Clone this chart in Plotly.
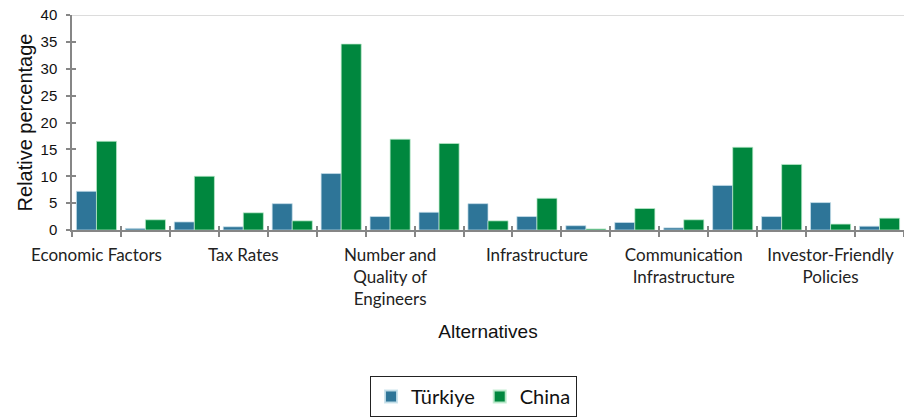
import plotly.graph_objects as go

# Data (17 alternatives; only every third is labelled on the axis)
positions = list(range(17))
turkiye = [7.2, 0.3, 1.5, 0.6, 4.9, 10.5, 2.5, 3.3, 4.9, 2.5, 0.8, 1.4, 0.4, 8.3, 2.5, 5.1, 0.7]
china = [16.5, 1.9, 10.0, 3.2, 1.7, 34.6, 16.9, 16.1, 1.7, 5.9, 0.2, 4.0, 1.9, 15.4, 12.2, 1.1, 2.2]
label_positions = [0, 3, 6, 9, 12, 15]
label_texts = ["Economic Factors", "Tax Rates", "Number and<br>Quality of<br>Engineers",
               "Infrastructure", "Communication<br>Infrastructure", "Investor-Friendly<br>Policies"]
boundaries = [p - 0.5 for p in positions] + [positions[-1] + 0.5]
y_ticks = [0, 5, 10, 15, 20, 25, 30, 35, 40]

AXIS = "#868686"
fig = go.Figure()
fig.add_trace(go.Bar(x=positions, y=turkiye, name="Türkiye",
                     marker=dict(color="#2E7598", line=dict(color="rgba(200,225,235,0.9)", width=0.8))))
fig.add_trace(go.Bar(x=positions, y=china, name="China",
                     marker=dict(color="#00873E", line=dict(color="rgba(190,235,205,0.9)", width=0.8))))

xr = [-0.5, 16.5]
fig.update_layout(
    width=904, height=420,
    margin=dict(l=72, r=0, t=15, b=190),
    paper_bgcolor="white", plot_bgcolor="white",
    barmode="group", bargap=0.18, bargroupgap=0,
    xaxis=dict(range=xr, tickmode="array", tickvals=label_positions, ticktext=label_texts,
               ticks="", showline=True, linecolor=AXIS, linewidth=1.5, showgrid=False, zeroline=False,
               tickfont=dict(family="Lato", size=17, color="#222"), ticklabelstandoff=9,
               minor=dict(tickvals=boundaries, ticks="outside", ticklen=5, tickcolor=AXIS, tickwidth=1.5),
               title=dict(text="Alternatives", font=dict(family="Liberation Sans", size=19, color="#111"), standoff=16)),
    xaxis2=dict(range=xr, overlaying="x", anchor="y", side="bottom", tickmode="array", tickvals=boundaries,
                showticklabels=False, ticks="inside", ticklen=4, tickcolor=AXIS, tickwidth=1.5,
                showgrid=False, zeroline=False, showline=False),
    yaxis=dict(range=[0, 40], tickmode="array", tickvals=y_ticks, ticks="outside", ticklen=4,
               tickcolor=AXIS, tickwidth=1.5, showline=True, linecolor=AXIS, linewidth=1.5,
               showgrid=False, zeroline=False, ticklabelstandoff=6,
               tickfont=dict(family="Liberation Sans", size=15, color="#111"),
               title=dict(text="Relative percentage", font=dict(family="Liberation Sans", size=20, color="#111"), standoff=3)),
    yaxis2=dict(range=[0, 40], overlaying="y", anchor="x", side="left", tickmode="array", tickvals=y_ticks,
                showticklabels=False, ticks="inside", ticklen=4, tickcolor=AXIS, tickwidth=1.5,
                showgrid=False, zeroline=False, showline=False),
    legend=dict(orientation="h", x=0.4826, xanchor="center", y=-0.679, yanchor="top",
                bordercolor="#222", borderwidth=1, font=dict(family="Lato", size=20, color="#111"),
                itemsizing="constant"),
    showlegend=True,
    shapes=[dict(type="line", xref="paper", x0=0, x1=1, yref="y", y0=40, y1=40,
                 line=dict(color="#D0D0D0", width=1.5), layer="below")],
)
# dummy invisible trace to activate overlay axes
fig.add_trace(go.Scatter(x=[None], y=[None], xaxis="x2", yaxis="y2", showlegend=False, hoverinfo="skip"))
fig.write_html("out.html")
